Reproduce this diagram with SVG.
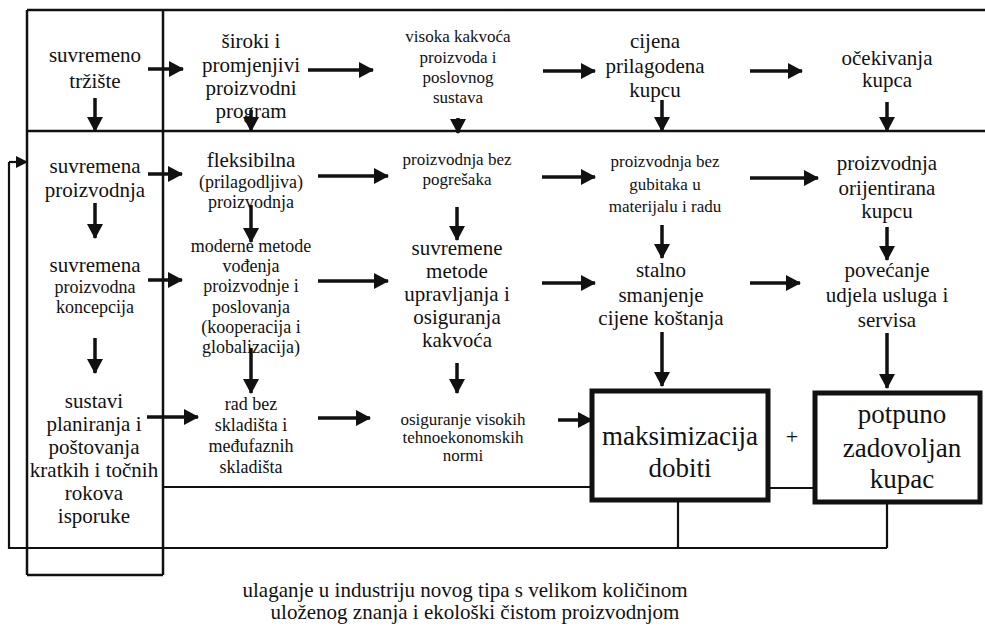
<svg xmlns="http://www.w3.org/2000/svg" width="985" height="628" viewBox="0 0 985 628">
  <style>
    text { font-family: "Liberation Serif", "Tinos", "Times New Roman", "DejaVu Serif", "Noto Serif", serif; fill: #111; text-anchor: middle; }
    .f21 { font-size: 21px; }
    .f18 { font-size: 18px; }
    .f17 { font-size: 17px; }
    .f27 { font-size: 27px; }
    .frame { fill: none; stroke: #111; stroke-width: 2.5; }
    .box { fill: none; stroke: #111; stroke-width: 5; }
    .arr { stroke: #111; stroke-width: 3.5; fill: none; marker-end: url(#head); }
    .ln { stroke: #111; stroke-width: 2.2; fill: none; }
  </style>
  <defs>
    <marker id="head" markerUnits="userSpaceOnUse" markerWidth="15" markerHeight="16" refX="14" refY="8" orient="auto">
      <path d="M0,0 L15,8 L0,16 z" fill="#111"/>
    </marker>
    <marker id="headS" markerUnits="userSpaceOnUse" markerWidth="12" markerHeight="12" refX="11" refY="6" orient="auto">
      <path d="M0,0 L12,6 L0,12 z" fill="#111"/>
    </marker>
  </defs>
  <rect width="985" height="628" fill="#fff"/>

  <!-- frame: top band, left column, inner rule -->
  <g id="frame">
    <line class="frame" x1="27" y1="10" x2="985" y2="10"/>
    <line class="frame" x1="27" y1="131" x2="985" y2="131"/>
    <line class="frame" x1="27" y1="10" x2="27" y2="575"/>
    <line class="frame" x1="163" y1="10" x2="163" y2="575"/>
    <line class="frame" x1="27" y1="575" x2="163" y2="575"/>
  </g>

  <g font-family="Liberation Serif, Times New Roman, serif">
  <!-- column 1 -->
  <g id="trziste"><text class="f21" x="95" y="62">suvremeno</text><text class="f21" x="95" y="88">tržište</text></g>
  <g id="proizvodnja"><text class="f21" x="95" y="173">suvremena</text><text class="f21" x="95" y="197">proizvodnja</text></g>
  <g id="koncepcija"><text class="f21" x="95" y="272">suvremena</text><text class="f18" x="95" y="293">proizvodna</text><text class="f18" x="95" y="313">koncepcija</text></g>
  <g id="sustavi">
    <text class="f21" x="94" y="408">sustavi</text>
    <text class="f21" x="94" y="431">planiranja i</text>
    <text class="f21" x="94" y="454">poštovanja</text>
    <text class="f21" x="94" y="477">kratkih i točnih</text>
    <text class="f21" x="94" y="500">rokova</text>
    <text class="f21" x="94" y="523">isporuke</text>
  </g>

  <!-- column 2 -->
  <g id="program">
    <text class="f21" x="251" y="48">široki i</text>
    <text class="f21" x="251" y="72">promjenjivi</text>
    <text class="f21" x="251" y="95">proizvodni</text>
    <text class="f21" x="251" y="118">program</text>
  </g>
  <g id="fleksibilna">
    <text class="f21" x="251" y="167">fleksibilna</text>
    <text class="f18" x="251" y="188">(prilagodljiva)</text>
    <text class="f18" x="251" y="208">proizvodnja</text>
  </g>
  <g id="metode-vodenja">
    <text class="f18" x="251" y="252">moderne metode</text>
    <text class="f18" x="251" y="272">vođenja</text>
    <text class="f18" x="251" y="292">proizvodnje i</text>
    <text class="f18" x="251" y="313">poslovanja</text>
    <text class="f18" x="251" y="333">(kooperacija i</text>
    <text class="f18" x="251" y="353">globalizacija)</text>
  </g>
  <g id="rad-bez-skladista">
    <text class="f18" x="251" y="410">rad bez</text>
    <text class="f18" x="251" y="431">skladišta i</text>
    <text class="f18" x="251" y="452">međufaznih</text>
    <text class="f18" x="251" y="473">skladišta</text>
  </g>

  <!-- column 3 -->
  <g id="kakvoca">
    <text class="f17" x="458" y="42">visoka kakvoća</text>
    <text class="f17" x="458" y="63">proizvoda i</text>
    <text class="f17" x="458" y="83">poslovnog</text>
    <text class="f17" x="458" y="103">sustava</text>
  </g>
  <g id="bez-pogresaka"><text class="f17" x="457" y="165">proizvodnja bez</text><text class="f17" x="457" y="185">pogrešaka</text></g>
  <g id="upravljanje-kakvocom">
    <text class="f21" x="457" y="255">suvremene</text>
    <text class="f21" x="457" y="278">metode</text>
    <text class="f21" x="457" y="301">upravljanja i</text>
    <text class="f21" x="457" y="324">osiguranja</text>
    <text class="f21" x="457" y="347">kakvoća</text>
  </g>
  <g id="norme">
    <text class="f17" x="463" y="425">osiguranje visokih</text>
    <text class="f17" x="463" y="443">tehnoekonomskih</text>
    <text class="f17" x="463" y="461">normi</text>
  </g>

  <!-- column 4 -->
  <g id="cijena"><text class="f21" x="655" y="48">cijena</text><text class="f21" x="655" y="73">prilagodena</text><text class="f21" x="655" y="97">kupcu</text></g>
  <g id="bez-gubitaka">
    <text class="f17" x="665" y="167">proizvodnja bez</text>
    <text class="f17" x="665" y="190">gubitaka u</text>
    <text class="f17" x="665" y="212">materijalu i radu</text>
  </g>
  <g id="smanjenje-cijene">
    <text class="f21" x="661" y="277">stalno</text>
    <text class="f21" x="661" y="302">smanjenje</text>
    <text class="f21" x="661" y="325">cijene koštanja</text>
  </g>

  <!-- column 5 -->
  <g id="ocekivanja"><text class="f21" x="887" y="65">očekivanja</text><text class="f21" x="887" y="87">kupca</text></g>
  <g id="orijentirana"><text class="f21" x="887" y="170">proizvodnja</text><text class="f21" x="887" y="195">orijentirana</text><text class="f21" x="887" y="218">kupcu</text></g>
  <g id="usluge"><text class="f21" x="887" y="277">povećanje</text><text class="f21" x="887" y="302">udjela usluga i</text><text class="f21" x="887" y="327">servisa</text></g>

  <!-- outcome boxes -->
  <g id="maksimizacija">
    <rect class="box" x="592" y="391" width="176" height="109"/>
    <text class="f27" x="680" y="445">maksimizacija</text>
    <text class="f27" x="680" y="477">dobiti</text>
  </g>
  <text x="792" y="444" style="font-size:22px">+</text>
  <g id="zadovoljan-kupac">
    <rect class="box" x="815" y="393" width="165" height="109"/>
    <text class="f27" x="902" y="423">potpuno</text>
    <text class="f27" x="902" y="457">zadovoljan</text>
    <text class="f27" x="902" y="488">kupac</text>
  </g>

  <g id="ulaganje">
    <text class="f21" x="465" y="597">ulaganje u industriju novog tipa s velikom količinom</text>
    <text class="f21" x="475" y="619">uloženog znanja i ekološki čistom proizvodnjom</text>
  </g>
  </g>

  <g id="connectors">
    <!-- horizontal flow -->
    <line class="arr" x1="148" y1="69" x2="183" y2="69"/>
    <line class="arr" x1="308" y1="70" x2="373" y2="70"/>
    <line class="arr" x1="543" y1="71" x2="595" y2="71"/>
    <line class="arr" x1="750" y1="71" x2="802" y2="71"/>

    <line class="arr" x1="148" y1="174" x2="182" y2="174"/>
    <line class="arr" x1="318" y1="176" x2="388" y2="176"/>
    <line class="arr" x1="542" y1="177" x2="595" y2="177"/>
    <line class="arr" x1="750" y1="178" x2="818" y2="178"/>

    <line class="arr" x1="148" y1="280" x2="182" y2="280"/>
    <line class="arr" x1="318" y1="281" x2="388" y2="281"/>
    <line class="arr" x1="542" y1="283" x2="595" y2="283"/>
    <line class="arr" x1="750" y1="283" x2="800" y2="283"/>

    <line class="arr" x1="147" y1="417" x2="198" y2="417"/>
    <line class="arr" x1="318" y1="418" x2="370" y2="418"/>
    <line class="arr" x1="558" y1="420" x2="592" y2="420"/>

    <!-- vertical flow -->
    <line class="arr" x1="95" y1="98" x2="95" y2="131"/>
    <line class="arr" x1="251" y1="110" x2="251" y2="131"/>
    <line class="arr" x1="458" y1="118" x2="458" y2="133"/>
    <line class="arr" x1="662" y1="100" x2="662" y2="131"/>
    <line class="arr" x1="887" y1="102" x2="887" y2="131"/>

    <line class="arr" x1="95" y1="203" x2="95" y2="238"/>
    <line class="arr" x1="95" y1="338" x2="95" y2="373"/>
    <line class="arr" x1="251" y1="205" x2="251" y2="242"/>
    <line class="arr" x1="251" y1="348" x2="251" y2="393"/>
    <line class="arr" x1="457" y1="207" x2="457" y2="240"/>
    <line class="arr" x1="457" y1="363" x2="457" y2="393"/>
    <line class="arr" x1="662" y1="225" x2="662" y2="258"/>
    <line class="arr" x1="662" y1="332" x2="662" y2="386"/>
    <line class="arr" x1="887" y1="227" x2="887" y2="260"/>
    <line class="arr" x1="887" y1="333" x2="887" y2="388"/>

    <!-- lower rule and links between outcome boxes -->
    <line class="ln" x1="163" y1="487" x2="592" y2="487"/>
    <line class="ln" x1="768" y1="488" x2="815" y2="488"/>

    <!-- feedback loop back to the left column -->
    <line class="ln" x1="678" y1="500" x2="678" y2="549"/>
    <line class="ln" x1="887" y1="502" x2="887" y2="548"/>
    <polyline class="ln" points="887,548 9,548 9,162"/>
    <line class="ln" x1="9" y1="162" x2="27" y2="162" marker-end="url(#headS)"/>
  </g>
</svg>
